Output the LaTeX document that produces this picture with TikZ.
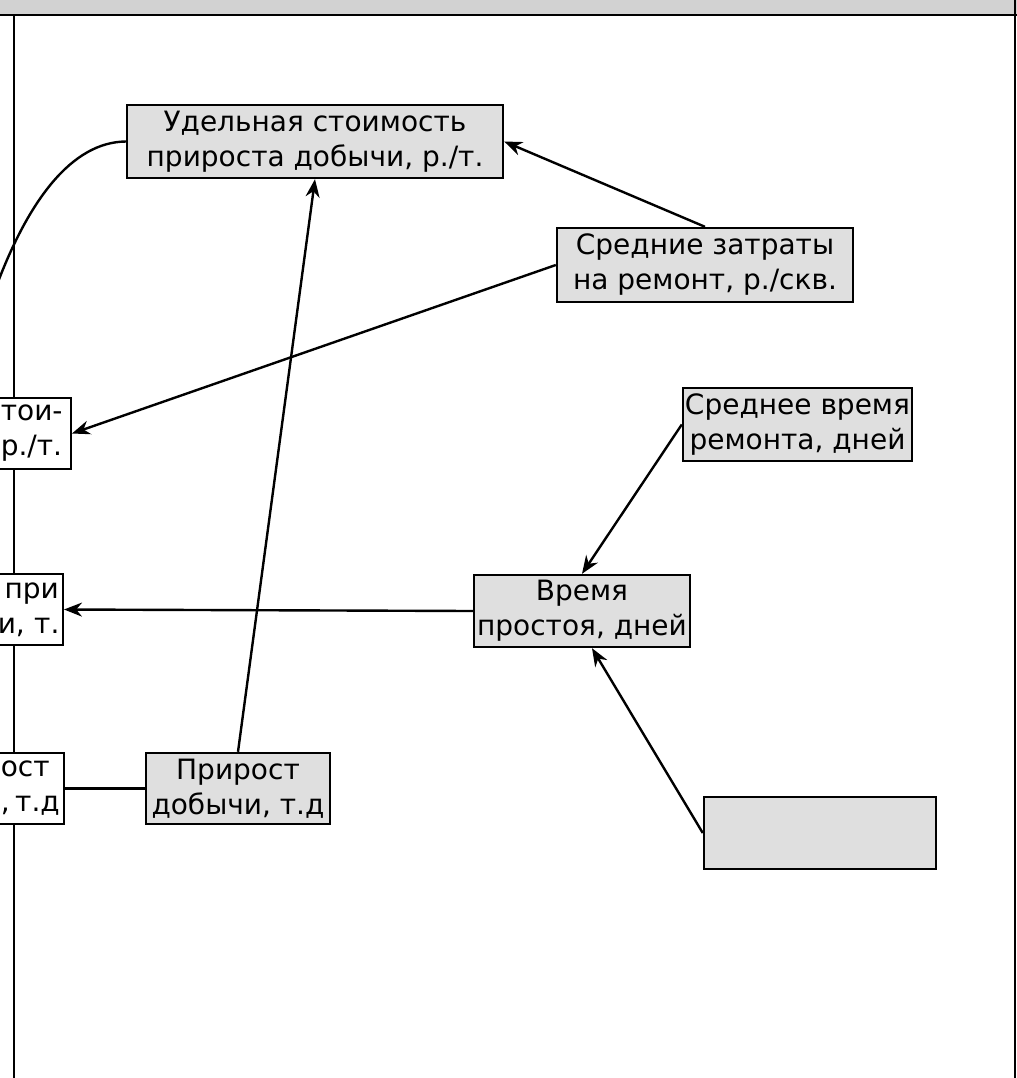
\documentclass[tikz,border=0pt]{standalone}
\usepackage{fontspec}
\setmainfont{DejaVu Sans}
\usetikzlibrary{arrows.meta}
\tikzstyle{factor} = [rectangle, align=center, draw=black, line width=1.2pt, fill=gray!25, inner sep=1pt, font=\fontsize{14}{17.5}\selectfont]
\tikzstyle{cut} = [rectangle, align=left, draw=black, line width=1.2pt, fill=white, inner xsep=2pt, minimum height=35.5pt, anchor=east, font=\fontsize{14}{17.5}\selectfont]
\tikzstyle{arrow} = [line width=1.2pt, -{Stealth[length=9pt,width=7pt]}]
\tikzstyle{line} = [line width=1.2pt]

\begin{document}
\begin{tikzpicture}[x=0.5pt, y=-0.5pt]
\useasboundingbox (0,0) rectangle (1017,1078);
\clip (0,0) rectangle (1017,1078);

% Frame
\fill[gray!35] (0,0) rectangle (1017,14);
\draw[line width=1.3pt] (0,15) -- (1017,15);
\draw[line width=1.2pt] (1015,0) -- (1015,1078);

% Nodes
\node (cost) [factor, minimum width=188pt, minimum height=36.5pt] at (315,141.5) {Удельная стоимость\\прироста добычи, р./т.};
\node (repair) [factor, minimum width=148pt, minimum height=37pt] at (705,265) {Средние затраты\\на ремонт, р./скв.};
\node (rtime) [factor, minimum width=108.5pt, minimum height=36.5pt] at (797.5,424.5) {Среднее время\\ремонта, дней};
\node (idle) [factor, minimum width=108pt, minimum height=36pt] at (582,611) {Время\\простоя, дней};
\node (gain) [factor, minimum width=92pt, minimum height=35.5pt] at (238,788.5) {Прирост\\добычи, т.д};
\node (blank) [factor, minimum width=116pt, minimum height=36pt] at (820,833) {};

\node (unit) [cut, text width=33pt] at (72,433.5) {тои-\\р./т.};
\node (loss) [cut, text width=30.5pt] at (64,609.5) {\hfill при\\и,~т.};
\node (gainleft) [cut, text width=29.5pt] at (65,788.5) {ост\\,\hfill т.д};

\coordinate (vtop) at (14,15);
\coordinate (vbot) at (14,1078);
\coordinate (cend) at (-5,290);

% Lines
\draw [line] (vtop) -- (vtop |- unit.north);
\draw [line] (vtop |- unit.south) -- (vtop |- loss.north);
\draw [line] (vtop |- loss.south) -- (vtop |- gainleft.north);
\draw [line] (vtop |- gainleft.south) -- (vbot);
\draw [line] (cost.west) .. controls (72,142) and (28,200) .. (cend);
\draw [line] (gain.west) -- (gainleft.east);

% Arrows
\draw [arrow] (repair.north) -- (cost.east);
\draw [arrow] (repair.west) -- (unit.east);
\draw [arrow] (rtime.west) -- (idle.north);
\draw [arrow] (idle.west) -- (loss.east);
\draw [arrow] (blank.west) -- ([xshift=5pt]idle.south);
\draw [arrow] (gain.north) -- (cost.south);

\end{tikzpicture}
\end{document}
